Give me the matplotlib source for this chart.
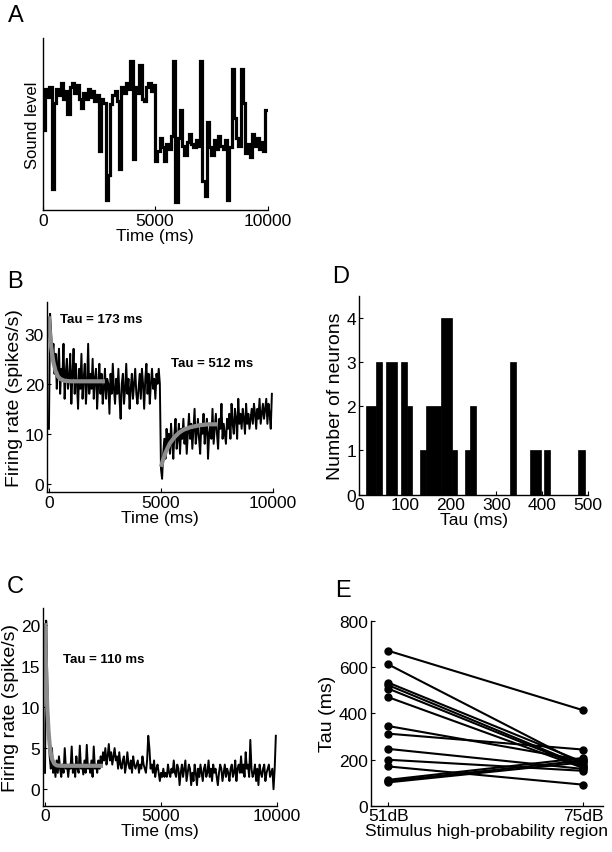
import numpy as np
import matplotlib
matplotlib.use("Agg")
import matplotlib.pyplot as plt
from matplotlib import font_manager

# ---------------- data ----------------
# A: stimulus sound level (dB), 100 ms steps
level_a = [56, 77, 73, 78, 26, 70, 77, 74, 80, 72,
           76, 64, 78, 80, 75, 79, 72, 67, 75, 72,
           77, 73, 76, 71, 74, 45, 72, 70, 20, 33,
           69, 74, 76, 71, 36, 78, 75, 80, 77, 91,
           41, 78, 75, 89, 72, 71, 78, 80, 76, 79,
           40, 45, 52, 47, 40, 49, 46, 53, 91, 19,
           52, 66, 48, 43, 50, 54, 49, 47, 51, 48,
           91, 30, 22, 60, 47, 43, 51, 46, 53, 48,
           46, 51, 20, 47, 87, 62, 52, 48, 87, 70,
           44, 49, 42, 54, 48, 52, 46, 50, 45, 66]
step_a = 100

# B: firing rate (spikes/s), 50 ms bins
rate_b = [11, 34, 30, 25, 28, 22, 26, 19, 24, 27, 18, 23, 21, 28, 17, 22, 25, 19, 21, 26,
          16, 22, 27, 18, 24, 20, 15, 23, 19, 26, 17, 21, 24, 16, 20, 28, 18, 22, 19, 25,
          17, 21, 23, 15, 20, 24, 18, 22, 16, 19, 23, 17, 21, 20, 14, 22, 18, 24, 19, 16,
          21, 18, 23, 17, 13, 20, 22, 16, 19, 24, 18, 21, 15, 19, 22, 17, 20, 23, 18, 16,
          19, 22, 17, 23, 20, 15, 21, 24, 18, 22, 16, 20, 23, 19, 21, 17, 22, 20, 23, 20,
          3, 1, 6, 9, 5, 11, 7, 10, 6, 12, 8, 5, 10, 13, 7, 9, 12, 6, 11, 9,
          13, 8, 11, 6, 10, 14, 9, 12, 7, 11, 15, 8, 10, 13, 9, 6, 12, 10, 14, 8,
          11, 13, 5, 10, 12, 9, 15, 8, 11, 14, 10, 7, 13, 11, 16, 9, 12, 10, 8, 13,
          11, 14, 9, 16, 12, 10, 15, 13, 9, 17, 12, 14, 11, 15, 13, 10, 16, 12, 14, 11,
          13, 15, 12, 16, 14, 11, 15, 13, 17, 12, 14, 16, 13, 15, 17, 12, 16, 14, 11, 18]
fit1_t = [0, 50, 100, 150, 200, 300, 400, 500, 700, 1000, 1500, 2500]
fit1_r = [33.5, 29.6, 27.4, 25.7, 24.3, 22.5, 21.5, 21.0, 20.6, 20.5, 20.5, 20.5]
fit2_t = [5000, 5100, 5200, 5300, 5400, 5600, 5800, 6000, 6300, 6700, 7100, 7500]
fit2_r = [3.4, 4.9, 6.2, 7.2, 8.1, 9.3, 10.2, 10.8, 11.3, 11.7, 11.9, 11.9]

# C: firing rate (spike/s), 50 ms bins
rate_c = [2, 20.5, 13, 7, 4, 2.5, 5, 2, 3, 1.5, 3.5, 2, 4, 2.5, 1.5, 3, 2, 5, 2.5, 3,
          1.5, 3, 2.5, 5.2, 2, 3, 1.5, 4, 2.5, 2, 5.3, 2.5, 3, 1.8, 3.5, 2, 5.4, 2.5, 3, 2,
          3.5, 1.5, 5.2, 2.5, 3, 2, 3.5, 2.5, 4, 3, 4.5, 3.5, 5, 3, 4, 5.5, 3.5, 4.5, 3, 4,
          5, 3.5, 4, 2.5, 4.5, 3, 2.5, 3.5, 4, 2, 3, 4.5, 3, 2.5, 3.5, 2, 4, 3, 2.5, 3,
          3.5, 2, 3, 2.5, 4, 3, 2.5, 2, 3.5, 6.5, 5, 2.5, 3, 2, 3.5, 1.5, 2.5, 3, 2, 1,
          2, 1.5, 2.5, 1.5, 2, 1.5, 3, 2, 1.5, 2.5, 2, 3.5, 2, 1.5, 3, 2.5, 0.5, 2, 3, 1.5,
          2.5, 3.5, 1, 2, 3, 2.5, 0.5, 2, 1, 3, 2, 0.5, 2.5, 1.5, 3, 2, 1, 2.5, 3, 1.5,
          2, 3.5, 1.5, 2.5, 1, 3, 2, 2.5, 1.5, 0.5, 2, 3, 2.5, 1, 2, 3, 1.5, 2.5, 2, 1,
          2.5, 3, 1.5, 2, 3.5, 1, 2.5, 3, 2, 4, 2, 3, 1.5, 4.5, 2.5, 3, 1.5, 6, 2.5, 1.5,
          2, 3, 1, 2.5, 0.5, 3, 2, 1.5, 2.5, 3, 1, 2, 2.5, 3, 1.5, 2, 2.5, 0, 2.5, 6.5]
bin_ms = 50
fitc_t = [0, 50, 100, 150, 200, 250, 300, 400, 500, 700, 2500]
fitc_r = [20.2, 13.8, 9.7, 7.1, 5.4, 4.4, 3.7, 3.1, 2.9, 2.85, 2.85]

# D: histogram of tau (bar left edge, right edge, count)
tau_left = [16, 36.4, 59, 91, 104, 133, 146, 178, 202, 231, 242, 330, 373, 405, 479]
tau_right = [36.4, 51, 83.7, 104, 116.4, 146, 178, 202, 213, 242, 255.5, 343, 397, 418, 493]
tau_count = [2, 3, 3, 3, 2, 1, 2, 4, 1, 1, 2, 3, 1, 1, 1]

# E: tau per neuron at the two high-probability regions
regions = ["51dB", "75dB"]
tau_51 = [671, 612, 533, 522, 507, 470, 345, 312, 246, 199, 170, 112, 106, 101]
tau_75 = [413, 177, 188, 172, 167, 163, 196, 243, 159, 151, 91, 207, 196, 188]

# ---------------- style ----------------
names = {f.name for f in font_manager.fontManager.ttflist}
narrow = "Liberation Sans Narrow" if "Liberation Sans Narrow" in names else "Liberation Sans"
tick_size = 14.5 if narrow == "Liberation Sans Narrow" else 12.5
plt.rcParams["font.family"] = ["Liberation Sans", "DejaVu Sans"]
plt.rcParams["xtick.direction"] = "in"
plt.rcParams["ytick.direction"] = "in"
plt.rcParams["xtick.major.size"] = 3
plt.rcParams["ytick.major.size"] = 3
plt.rcParams["axes.linewidth"] = 1.0

W, H = 612, 853
fig = plt.figure(figsize=(W / 100, H / 100), dpi=100)


def box(l, t, r, b):
    return [l / W, 1 - b / H, (r - l) / W, (b - t) / H]


def style(ax):
    for s in ("top", "right"):
        ax.spines[s].set_visible(False)
    for lab in ax.get_xticklabels() + ax.get_yticklabels():
        lab.set_family(narrow)
        lab.set_fontsize(tick_size)
    ax.tick_params(pad=2)


gray = "0.55"

# A
axA = fig.add_axes(box(42.7, 39, 267.5, 211))
edges_a = np.arange(len(level_a) + 1) * step_a
axA.stairs(level_a, edges_a, baseline=None, color="black", lw=2.3)
axA.set_xlim(0, 10000)
axA.set_ylim(15, 103)
axA.set_xticks([0, 5000, 10000])
axA.set_yticks([])
axA.set_ylabel("Sound level", fontsize=12, labelpad=2)
axA.set_xlabel("Time (ms)", family=narrow, fontsize=tick_size, labelpad=0)
style(axA)

# B
axB = fig.add_axes(box(46.7, 303.3, 273, 493.3))
t_b = np.arange(len(rate_b)) * bin_ms
axB.plot(t_b, rate_b, color="black", lw=1.4)
axB.plot(fit1_t, fit1_r, color=gray, lw=3, solid_capstyle="butt")
axB.plot(fit2_t, fit2_r, color=gray, lw=3, solid_capstyle="butt")
axB.text(490, 33, "Tau = 173 ms", fontsize=9.5, fontweight="bold", va="center")
axB.text(5450, 24.2, "Tau = 512 ms", fontsize=9.5, fontweight="bold", va="center")
axB.set_xlim(-100, 10000)
axB.set_ylim(-1.7, 36.3)
axB.set_xticks([0, 5000, 10000])
axB.set_yticks([0, 10, 20, 30])
axB.set_xlabel("Time (ms)", family=narrow, fontsize=tick_size, labelpad=0)
axB.set_ylabel("Firing rate (spikes/s)", fontsize=14, labelpad=1)
style(axB)

# C
axC = fig.add_axes(box(42.7, 609.3, 277, 806.7))
t_c = np.arange(len(rate_c)) * bin_ms
axC.plot(t_c, rate_c, color="black", lw=1.4)
axC.plot(fitc_t, fitc_r, color=gray, lw=3, solid_capstyle="butt")
axC.text(770, 15.8, "Tau = 110 ms", fontsize=9.5, fontweight="bold", va="center")
axC.set_xlim(-100, 10000)
axC.set_ylim(-2, 22)
axC.set_xticks([0, 5000, 10000])
axC.set_yticks([0, 5, 10, 15, 20])
axC.set_xlabel("Time (ms)", family=narrow, fontsize=tick_size, labelpad=0)
axC.set_ylabel("Firing rate (spike/s)", fontsize=14, labelpad=1)
style(axC)

# D
axD = fig.add_axes(box(359, 296.7, 588, 495.7))
widths = np.array(tau_right) - np.array(tau_left)
axD.bar(tau_left, tau_count, width=widths, align="edge", color="black", edgecolor="black", lw=0.5)
axD.set_xlim(0, 500)
axD.set_ylim(0, 4.5)
axD.set_xticks([0, 100, 200, 300, 400, 500])
axD.set_yticks([0, 1, 2, 3, 4])
axD.set_xlabel("Tau (ms)", family=narrow, fontsize=tick_size, labelpad=0)
axD.set_ylabel("Number of neurons", fontsize=14, labelpad=2)
style(axD)

# E
axE = fig.add_axes(box(370.7, 622, 603, 806.7))
for a, b in zip(tau_51, tau_75):
    axE.plot([1, 2], [a, b], color="black", lw=1.5, marker="o", ms=5)
axE.set_xlim(0.91, 2.1)
axE.set_ylim(0, 800)
axE.set_xticks([1, 2])
axE.set_xticklabels(regions)
axE.set_yticks([0, 200, 400, 600, 800])
axE.set_xlabel("Stimulus high-probability region", fontsize=12.5, labelpad=0)
axE.set_ylabel("Tau (ms)", fontsize=14, labelpad=2)
style(axE)

# panel letters
for letter, x, y in [("A", 8, 22), ("B", 7, 288), ("C", 7, 593), ("D", 332, 283), ("E", 335, 597)]:
    fig.text(x / W, 1 - y / H, letter, fontsize=17, va="baseline", ha="left")

fig.savefig("out.png", dpi=100)
